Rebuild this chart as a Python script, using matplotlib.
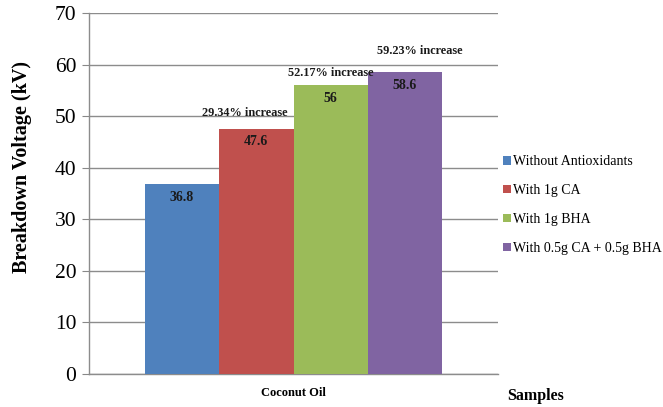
import matplotlib.pyplot as plt
import numpy as np

plt.rcParams["font.family"] = ["Liberation Serif", "DejaVu Serif"]

category = "Coconut Oil"
series = ["Without Antioxidants", "With 1g CA", "With 1g BHA", "With 0.5g CA + 0.5g BHA"]
values = [36.8, 47.6, 56, 58.6]
increase_labels = ["", "29.34% increase", "52.17% increase", "59.23% increase"]
colors = ["#4f81bd", "#c0504d", "#9bbb59", "#8064a2"]

fig = plt.figure(figsize=(6.63, 4.07), dpi=100)
ax = fig.add_axes([89 / 663, 1 - 374 / 407, 409 / 663, 361 / 407])

width = 0.1818
offsets = (np.arange(len(series)) - 1.5) * width
for off, val, name, col in zip(offsets, values, series, colors):
    ax.bar(off, val, width=width, color=col, label=name, zorder=3)
    ax.text(off, val - 2.6, f"{val:g}", ha="center", va="center",
            fontsize=10, fontweight="bold", color="#1a1a1a", zorder=4)

# percentage increase annotations, a little off the bar centre as in the source
shifts = [0, -0.027, 0.0, 0.037]
rises = [0, 3.1, 2.4, 4.0]
for off, val, lab, sh, r in zip(offsets, values, increase_labels, shifts, rises):
    if lab:
        ax.text(off + sh, val + r, lab, ha="center", va="center",
                fontsize=8.8, fontweight="bold", color="#1a1a1a", zorder=4)

ax.set_xlim(-0.5, 0.5)
ax.set_ylim(0, 70)
ax.set_yticks(range(0, 71, 10))
ax.tick_params(axis="y", labelsize=15.5, length=5, color="#888888", pad=4)
ax.set_xticks([0])
ax.set_xticklabels([category], fontsize=9, fontweight="bold")
ax.tick_params(axis="x", length=0, pad=9)
ax.grid(axis="y", color="#8c8c8c", linewidth=1, zorder=0)
for s in ["top", "right"]:
    ax.spines[s].set_visible(False)
for s in ["left", "bottom"]:
    ax.spines[s].set_color("#8c8c8c")
    ax.spines[s].set_linewidth(1)

fig.text(22 / 663, 1 - 167 / 407, "Breakdown Voltage (kV)", rotation=90,
         ha="center", va="center", fontsize=14.5, fontweight="bold")
fig.text(507 / 663, 1 - 396 / 407, "Samples", ha="left", va="center",
         fontsize=11.5, fontweight="bold")

ax.legend(loc="upper left", bbox_to_anchor=(503 / 663, 1 - 155 / 407),
          bbox_transform=fig.transFigure, frameon=False, fontsize=10,
          handlelength=0.6, handleheight=0.6, handletextpad=0.15,
          labelspacing=1.15, borderaxespad=0, borderpad=0)

fig.savefig("out.png", dpi=100)
